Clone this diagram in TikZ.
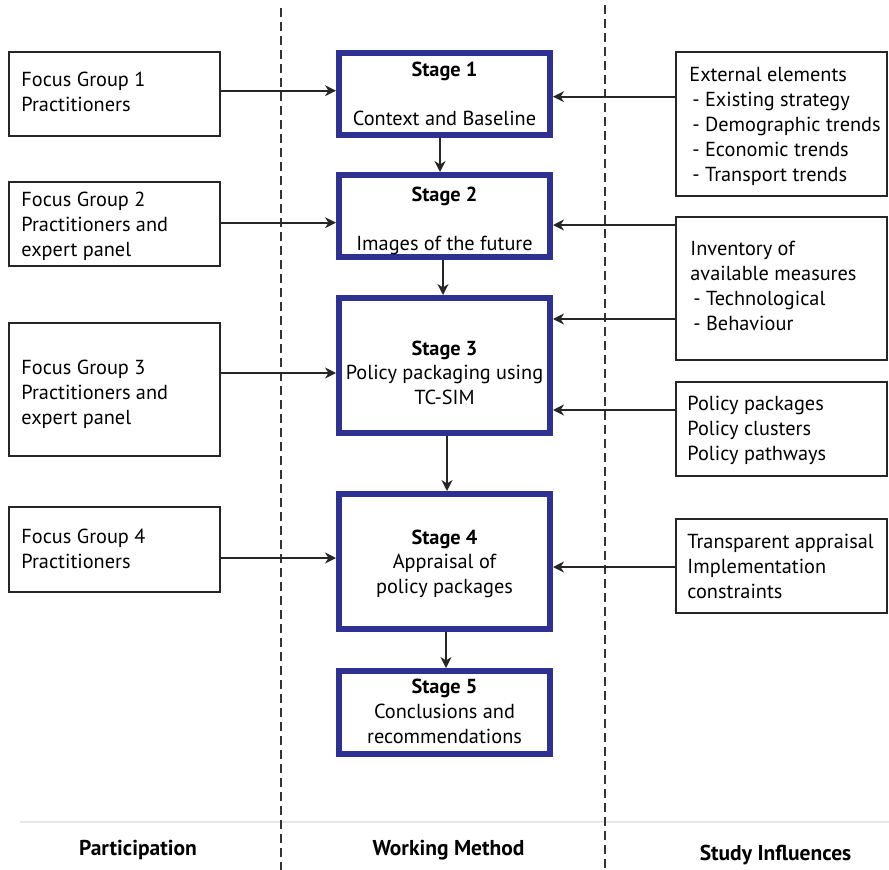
\documentclass[tikz,border=0pt]{standalone}
\usepackage{fontspec}
\setmainfont{PT Sans}
\usetikzlibrary{arrows.meta}
\definecolor{stageblue}{HTML}{2E3192}
\definecolor{rulegray}{HTML}{E6E6E6}
\tikzset{
  sidebox/.style={draw=black!85, line width=1.6pt, rectangle, inner sep=0pt,
    minimum width=211pt},
  sidetxt/.style={anchor=west, inner sep=0pt, align=left,
    font=\fontsize{20.3}{25}\selectfont},
  stagebox/.style={draw=stageblue, line width=6pt, rectangle, inner sep=0pt,
    minimum width=211pt},
  stagetxt/.style={anchor=base, inner sep=0pt, font=\fontsize{20.3}{25}\selectfont},
  stagehead/.style={stagetxt, font=\fontsize{20.3}{25}\selectfont\bfseries},
  coltitle/.style={anchor=base, inner sep=0pt, font=\fontsize{21.5}{25}\selectfont\bfseries},
  arr/.style={draw=black!85, line width=1.6pt,
    -{Stealth[length=11pt, width=11pt, inset=3.5pt]}},
  divider/.style={draw=black!80, line width=1.8pt, dash pattern=on 9pt off 5pt},
}
\newcommand{\ind}{\hspace*{3pt}}
\begin{document}
\begin{tikzpicture}[x=1pt, y=-1pt]
  \useasboundingbox (0,0) rectangle (889,870);

  % column dividers and the rule above the column titles
  \coordinate (d1t) at (281,8);   \coordinate (d1b) at (281,870);
  \coordinate (d2t) at (605,5);   \coordinate (d2b) at (605,870);
  \coordinate (rl) at (20,822);   \coordinate (rr) at (889,822);
  \draw[rulegray, line width=1.2pt] (rl) -- (rr);
  \draw[divider] (d1t) -- (d1b);
  \draw[divider] (d2t) -- (d2b);

  % participation
  \node[sidebox, minimum height=84pt]  (fg1) at (114.5,94)    {};
  \node[sidebox, minimum height=84pt]  (fg2) at (114.5,224)   {};
  \node[sidebox, minimum height=133pt] (fg3) at (114.5,389.5) {};
  \node[sidebox, minimum height=85pt]  (fg4) at (114.5,549.5) {};
  \node[sidetxt] (fg1t) at ([xshift=13pt,yshift=2pt]fg1.west)  {Focus Group 1\\Practitioners};
  \node[sidetxt] (fg2t) at ([xshift=13pt,yshift=-2pt]fg2.west) {Focus Group 2\\Practitioners and\\expert panel};
  \node[sidetxt] (fg3t) at ([xshift=13pt,yshift=-5pt]fg3.west) {Focus Group 3\\Practitioners and\\expert panel};
  \node[sidetxt] (fg4t) at ([xshift=13pt,yshift=1pt]fg4.west)  {Focus Group 4\\Practitioners};

  % working method
  \node[stagebox, minimum height=82pt]  (s1) at (444.5,94)    {};
  \node[stagebox, minimum height=82pt]  (s2) at (444.5,216)   {};
  \node[stagebox, minimum height=135pt] (s3) at (444.5,365.5) {};
  \node[stagebox, minimum height=135pt] (s4) at (444.5,561.5) {};
  \node[stagebox, minimum height=83pt]  (s5) at (444.5,712.5) {};

  \node[stagehead] (s1a) at (444.5,76)  {Stage 1};
  \node[stagetxt]  (s1b) at (444.5,125) {Context and Baseline};
  \node[stagehead] (s2a) at (444.5,201) {Stage 2};
  \node[stagetxt]  (s2b) at (444.5,250) {Images of the future};
  \node[stagehead] (s3a) at (444.5,355) {Stage 3};
  \node[stagetxt]  (s3b) at (444.5,379) {Policy packaging using};
  \node[stagetxt]  (s3c) at (444.5,404) {TC-SIM};
  \node[stagehead] (s4a) at (444.5,544) {Stage 4};
  \node[stagetxt]  (s4b) at (444.5,568.5) {Appraisal of};
  \node[stagetxt]  (s4c) at (444.5,593) {policy packages};
  \node[stagehead] (s5a) at (444.5,693) {Stage 5};
  \node[stagetxt]  (s5b) at (444.5,718) {Conclusions and};
  \node[stagetxt]  (s5c) at (444.5,743) {recommendations};

  % study influences
  \node[sidebox, minimum height=144pt] (r1) at (781.5,124)   {};
  \node[sidebox, minimum height=143pt] (r2) at (781.5,288.5) {};
  \node[sidebox, minimum height=94pt]  (r3) at (781.5,429)   {};
  \node[sidebox, minimum height=94pt]  (r4) at (781.5,566)   {};
  \node[sidetxt] (r1t) at ([xshift=14pt,yshift=-2pt]r1.west) {External elements\\
    \ind- Existing strategy\\\ind- Demographic trends\\\ind- Economic trends\\\ind- Transport trends};
  \node[sidetxt] (r2t) at ([xshift=15pt,yshift=3pt]r2.west) {Inventory of\\available measures\\
    \ind- Technological\\\ind- Behaviour};
  \node[sidetxt] (r3t) at ([xshift=12pt,yshift=-1pt]r3.west) {Policy packages\\Policy clusters\\Policy pathways};
  \node[sidetxt] (r4t) at ([xshift=12pt,yshift=0pt]r4.west) {Transparent appraisal\\Implementation\\constraints};

  % column titles
  \node[coltitle] (t1) at (138,855)   {Participation};
  \node[coltitle] (t2) at (448.5,855) {Working Method};
  \node[coltitle] (t3) at (775.5,860) {Study Influences};

  % stage sequence
  \draw[arr] ([xshift=-4.5pt]s1.south) -- ([xshift=-4.5pt]s2.north);
  \draw[arr] ([xshift=-1.5pt]s2.south) -- ([xshift=-1.5pt]s3.north);
  \draw[arr] ([xshift=2.5pt]s3.south)  -- ([xshift=2.5pt]s4.north);
  \draw[arr] ([xshift=1.5pt]s4.south)  -- ([xshift=1.5pt]s5.north);

  % participation feeding the stages
  \coordinate (a1) at ([yshift=3.3pt]fg1.east);
  \coordinate (a2) at ([yshift=1.3pt]fg2.east);
  \coordinate (a3) at ([yshift=16.5pt]fg3.east);
  \coordinate (a4) at ([yshift=-8.5pt]fg4.east);
  \draw[arr] (a1) -- (a1 -| s1.west);
  \draw[arr] (a2) -- (a2 -| s2.west);
  \draw[arr] (a3) -- (a3 -| s3.west);
  \draw[arr] (a4) -- (a4 -| s4.west);

  % influences feeding the stages
  \coordinate (b1) at ([yshift=27.3pt]r1.west);
  \coordinate (b2) at ([yshift=63.5pt]r2.west);
  \coordinate (b3) at ([yshift=-30.5pt]r2.west);
  \coordinate (b4) at ([yshift=19pt]r3.west);
  \coordinate (b5) at ([yshift=-1pt]r4.west);
  \draw[arr] (b1) -- (b1 -| s1.east);
  \draw[arr] (b2) -- (b2 -| s2.east);
  \draw[arr] (b3) -- (b3 -| s3.east);
  \draw[arr] (b4) -- (b4 -| s3.east);
  \draw[arr] (b5) -- (b5 -| s4.east);
\end{tikzpicture}
\end{document}
